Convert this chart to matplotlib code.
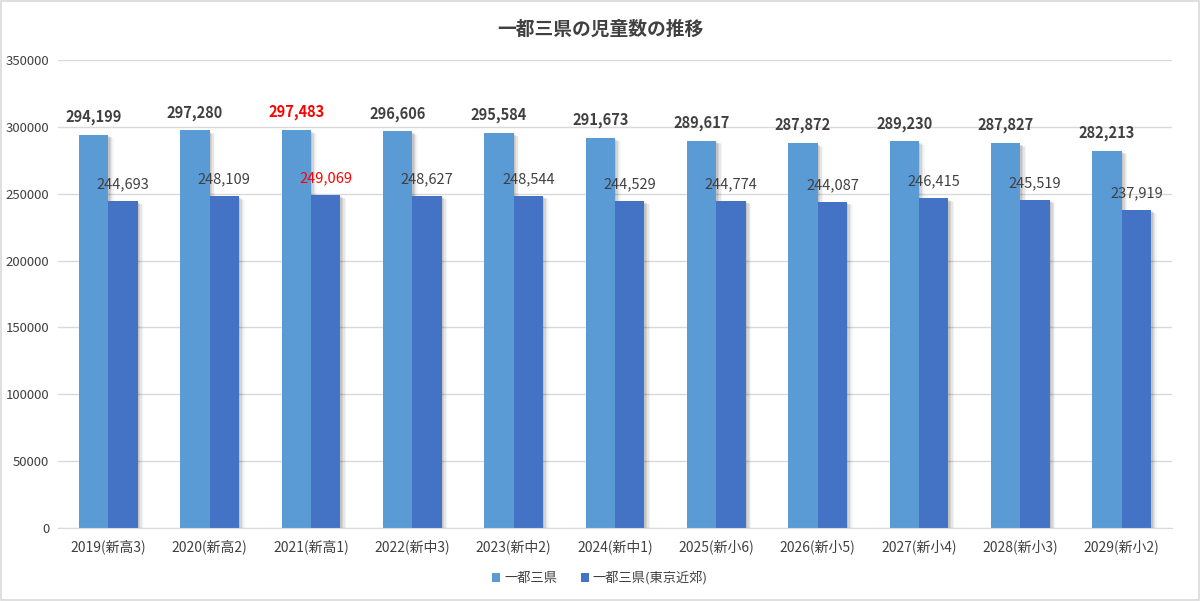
import matplotlib
matplotlib.use("Agg")
import matplotlib.pyplot as plt
import matplotlib.patheffects as pe
from matplotlib.patches import Rectangle, Patch
import numpy as np

plt.rcParams['font.family'] = ['Noto Sans CJK JP', 'DejaVu Sans']

categories = ["2019(新高3)", "2020(新高2)", "2021(新高1)", "2022(新中3)", "2023(新中2)",
              "2024(新中1)", "2025(新小6)", "2026(新小5)", "2027(新小4)", "2028(新小3)", "2029(新小2)"]
series_all = [294199, 297280, 297483, 296606, 295584, 291673, 289617, 287872, 289230, 287827, 282213]
series_near = [244693, 248109, 249069, 248627, 248544, 244529, 244774, 244087, 246415, 245519, 237919]
series_names = ["一都三県", "一都三県(東京近郊)"]
yticks = [0, 50000, 100000, 150000, 200000, 250000, 300000, 350000]
highlight_index = 2

c1 = "#5B9BD5"
c2 = "#4472C4"
txt = "#404040"

fig = plt.figure(figsize=(12, 6.01), dpi=100)
fig.patches.append(Rectangle((0.001, 0.001), 0.998, 0.997, transform=fig.transFigure,
                             fill=False, edgecolor="#D9D9D9", linewidth=1.2))
ax = fig.add_axes([0.048, 0.1215, 0.929, 0.7787])

x = np.arange(len(categories))
w = 0.29
shadow = [pe.SimplePatchShadow(offset=(1, -1), shadow_rgbFace="#000000", alpha=0.08),
          pe.SimplePatchShadow(offset=(2, -1.5), shadow_rgbFace="#000000", alpha=0.08),
          pe.SimplePatchShadow(offset=(3, -2), shadow_rgbFace="#000000", alpha=0.06),
          pe.SimplePatchShadow(offset=(4, -2.5), shadow_rgbFace="#000000", alpha=0.04),
          pe.Normal()]
b1 = ax.bar(x - w / 2, series_all, w, color=c1, zorder=3)
b2 = ax.bar(x + w / 2, series_near, w, color=c2, zorder=3)
for b in list(b1) + list(b2):
    b.set_path_effects(shadow)

for i in range(len(x)):
    col = "#FF0000" if i == highlight_index else txt
    ax.annotate(f"{series_all[i]:,}", (x[i] - w / 2, series_all[i]), xytext=(0, 7),
                textcoords="offset points", ha="center", va="bottom", fontsize=10.5,
                fontweight="bold", color=col, zorder=5)
    ax.annotate(f"{series_near[i]:,}", (x[i] + w / 2, series_near[i]), xytext=(0, 7),
                textcoords="offset points", ha="center", va="bottom", fontsize=10.5,
                color=col, zorder=5)

ax.set_xlim(-0.5, len(x) - 0.5)
ax.set_ylim(0, 350000)
ax.set_yticks(yticks)
ax.set_yticklabels([str(v) for v in yticks], fontsize=9.5, color=txt)
ax.set_xticks(x)
ax.set_xticklabels(categories, fontsize=10, color=txt)
ax.tick_params(axis="y", length=0, pad=6)
ax.tick_params(axis="x", length=0, pad=8)
ax.grid(axis="y", color="#D9D9D9", linewidth=1, zorder=0)
for s in ["top", "right", "left"]:
    ax.spines[s].set_visible(False)
ax.spines["bottom"].set_color("#D9D9D9")
ax.spines["bottom"].set_zorder(4)

fig.text(0.5, 0.951, "一都三県の児童数の推移", ha="center", va="center", fontsize=13.5,
         fontweight="bold", color="#404040")

handles = [Patch(facecolor=c1), Patch(facecolor=c2)]
leg = fig.legend(handles=handles, labels=series_names, loc="center", bbox_to_anchor=(0.5, 0.038),
                 ncol=2, frameon=False, fontsize=9.5, handlelength=0.6, handleheight=0.6,
                 columnspacing=1.8, handletextpad=0.3)
for t in leg.get_texts():
    t.set_color(txt)

fig.savefig("out.png", dpi=100)
